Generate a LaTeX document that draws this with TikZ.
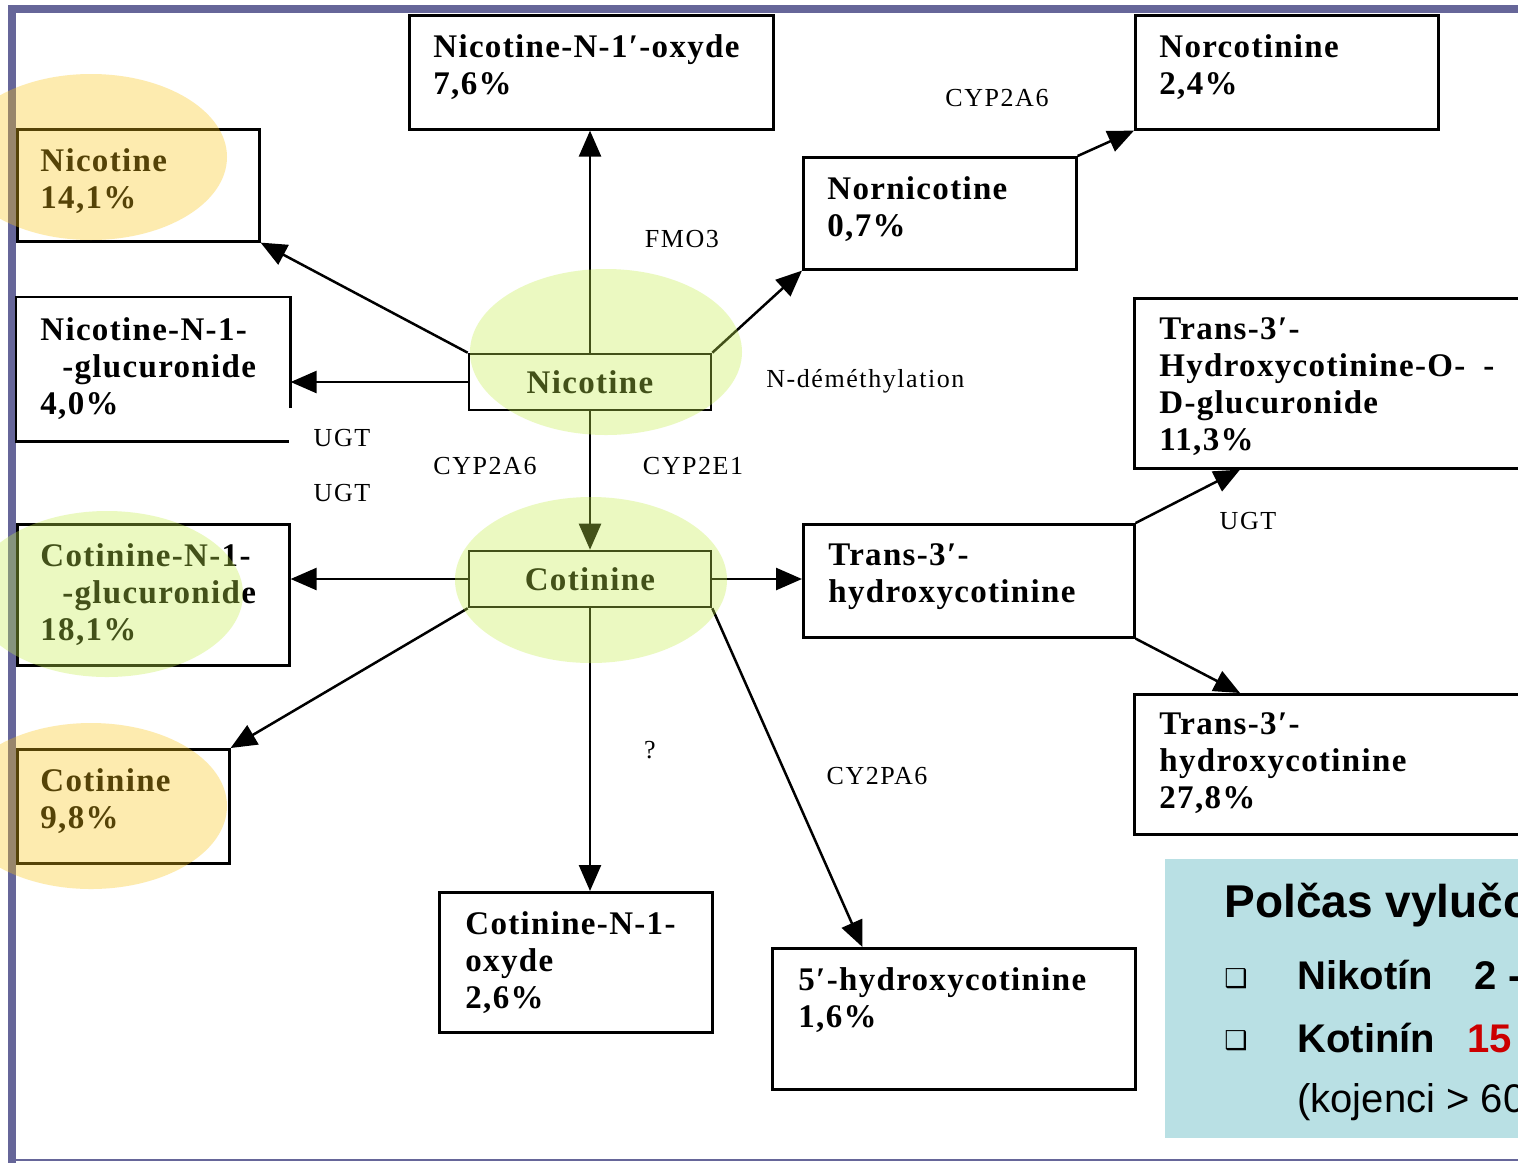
\documentclass[tikz,border=0pt]{standalone}
\usepackage{fontspec}
\setmainfont{Liberation Serif}
\newfontfamily\boxfont[LetterSpace=4]{Liberation Serif}
\newfontfamily\enzfont[LetterSpace=6]{Liberation Serif}
\newfontfamily\notefont{Liberation Sans}
\newfontfamily\dingfont{DejaVu Sans}
\usetikzlibrary{positioning,calc,arrows.meta}
\definecolor{framecol}{RGB}{102,102,153}
\definecolor{halocolY}{RGB}{251,197,21}
\definecolor{halocolG}{RGB}{197,239,76}
\definecolor{notecol}{RGB}{185,224,228}
\definecolor{kotred}{RGB}{204,0,0}

\begin{document}
\begin{tikzpicture}[x=0.5pt,y=-0.5pt,
  pbox/.style={draw, line width=1.3pt, inner sep=0, anchor=north west},
  ptext/.style={font=\boxfont\bfseries\fontsize{16.5}{18.5}\selectfont, align=left, inner sep=0},
  enz/.style={font=\enzfont\fontsize{13}{15}\selectfont, inner sep=0},
  reac/.style={line width=1.25pt, -{Triangle[length=13pt,width=11pt]}},
  yhalo/.style={fill=halocolY, fill opacity=0.34},
  ghalo/.style={fill=halocolG, fill opacity=0.34},
  notetext/.style={font=\notefont\bfseries\fontsize{20}{24}\selectfont, inner sep=0, anchor=base west}]

\useasboundingbox (0,0) rectangle (1518,1163);
\clip (0,0) rectangle (1518,1163);
\fill[white] (0,0) rectangle (1518,1163);

% slide frame
\fill[framecol] (8,5) rectangle (1518,13);
\fill[framecol] (8,5) rectangle (16,1163);
\draw[framecol, line width=1pt] (16,1160) -- (1518,1160);

% central boxes
\node[pbox, anchor=center, minimum width=121pt, minimum height=28pt, ptext] (nic) at (590,382) {Nicotine};
\node[pbox, anchor=center, minimum width=121pt, minimum height=28pt, ptext] (cot) at (590,579) {Cotinine};

% metabolite boxes
\node[pbox, minimum width=182pt, minimum height=57pt] (noxyde) at (408,14) {};
\node[pbox, minimum width=151.5pt, minimum height=57pt] (norcot) at (1134,14) {};
\node[pbox, minimum width=121pt, minimum height=56pt] (nicex) at (16,128) {};
\node[pbox, minimum width=136.5pt, minimum height=56pt] (nornic) at (802,156) {};
\node[pbox, draw=none, minimum width=136pt, minimum height=71pt] (nglu) at (16,297) {};
\node[pbox, minimum width=200pt, minimum height=85pt] (tgluc) at (1133,297) {};
\node[pbox, minimum width=136pt, minimum height=70.5pt] (cnglu) at (16,523) {};
\node[pbox, minimum width=165.5pt, minimum height=56.5pt] (thc) at (802,523) {};
\node[pbox, minimum width=106pt, minimum height=57pt] (cotex) at (16,748) {};
\node[pbox, minimum width=200pt, minimum height=70pt] (thcex) at (1133,693) {};
\node[pbox, minimum width=136.5pt, minimum height=70pt] (coxyde) at (438,891) {};
\node[pbox, minimum width=181.5pt, minimum height=70.5pt] (hydroxy) at (771,947) {};
\draw[line width=1.3pt] ($(nglu.north east)+(0,111)$) -- (nglu.north east) -- (nglu.north west)
  -- (nglu.south west) -- ($(nglu.south east)+(-2,0)$);

\node[ptext, below right=10pt and 12.5pt of noxyde.north west] (noxyde-t) {Nicotine-N-1′-oxyde\\7,6\%};
\node[ptext, below right=10pt and 12.5pt of norcot.north west] (norcot-t) {Norcotinine\\2,4\%};
\node[ptext, below right=10pt and 12pt of nicex.north west] (nicex-t) {Nicotine\\14,1\%};
\node[ptext, below right=10pt and 12.5pt of nornic.north west] (nornic-t) {Nornicotine\\0,7\%};
\node[ptext, below right=10pt and 12pt of nglu.north west] (nglu-t) {Nicotine-N-1-\\\hspace*{11pt}-glucuronide\\4,0\%};
\node[ptext, below right=10pt and 13pt of tgluc.north west] (tgluc-t) {Trans-3′-\\Hydroxycotinine-O-\hspace{9pt}-\\D-glucuronide\\11,3\%};
\node[ptext, below right=10pt and 12pt of cnglu.north west] (cnglu-t) {Cotinine-N-1-\\\hspace*{11pt}-glucuronide\\18,1\%};
\node[ptext, below right=10pt and 13pt of thc.north west] (thc-t) {Trans-3′-\\hydroxycotinine};
\node[ptext, below right=10pt and 12pt of cotex.north west] (cotex-t) {Cotinine\\9,8\%};
\node[ptext, below right=9.5pt and 13pt of thcex.north west] (thcex-t) {Trans-3′-\\hydroxycotinine\\27,8\%};
\node[ptext, below right=10pt and 13.5pt of coxyde.north west] (coxyde-t) {Cotinine-N-1-\\oxyde\\2,6\%};
\node[ptext, below right=10pt and 13.5pt of hydroxy.north west] (hydroxy-t) {5′-hydroxycotinine\\1,6\%};

% enzymes
\node[enz] (lcypa) at (997,98) {CYP2A6};
\node[enz] (lfmo) at (682,239) {FMO3};
\node[enz, anchor=west] (ldemeth) at (766,381) {N-déméthylation};
\node[enz] (lugta) at (342,438) {UGT};
\node[enz] (lcypb) at (485,466) {CYP2A6};
\node[enz] (lcypc) at (693,466) {CYP2E1};
\node[enz] (lugtb) at (342,493) {UGT};
\node[enz] (lugtc) at (1248,521) {UGT};
\node[enz] (lquery) at (650,750) {?};
\node[enz] (lcypd) at (877,776) {CY2PA6};

% reactions
\draw[reac] (nic.north) -- (nic.north |- noxyde.south);
\draw[reac] (nic.north west) -- (nicex.south east);
\draw[reac] (nic.west) -- (nic.west -| nglu.east);
\draw[reac] (nic.north east) -- (nornic.south west);
\draw[reac] (nornic.north east) -- (norcot.south west);
\draw[reac] (nic.south) -- (cot.north);
\draw[reac] (cot.west) -- (cot.west -| cnglu.east);
\draw[reac] (cot.south west) -- (cotex.north east);
\draw[reac] (cot.south) -- (cot.south |- coxyde.north);
\draw[reac] (cot.south east) -- ($(hydroxy.north west)!0.25!(hydroxy.north east)$);
\draw[reac] (cot.east) -- (cot.east -| thc.west);
\draw[reac] (thc.north east) -- ($(tgluc.south west)+(107,0)$);
\draw[reac] (thc.south east) -- ($(thcex.north west)+(107,0)$);

% halos
\fill[yhalo] (91,157) ellipse [x radius=68pt, y radius=41.5pt];
\fill[yhalo] (91,806) ellipse [x radius=68pt, y radius=41.5pt];
\fill[ghalo] (606,352) ellipse [x radius=68pt, y radius=41.5pt];
\fill[ghalo] (591,580) ellipse [x radius=68pt, y radius=41.5pt];
\fill[ghalo] (107,594) ellipse [x radius=68pt, y radius=41.5pt];

% half-life note
\node[anchor=north west, fill=notecol, minimum width=200pt, minimum height=139.5pt, inner sep=0] (halflife) at (1165,859) {};
\node[notetext, font=\notefont\bfseries\fontsize{23}{27}\selectfont] (hl-title) at (1224,917) {Polčas vylučo};
\node[font=\dingfont\fontsize{13}{13}\selectfont, inner sep=0] (bula) at (1236,979) {❑};
\node[font=\dingfont\fontsize{13}{13}\selectfont, inner sep=0] (bulb) at (1236,1041) {❑};
\node[notetext] (hl-nic) at (1297,989) {Nikotín\hspace{21pt}2 -};
\node[notetext] (hl-cot) at (1297,1052) {Kotinín\hspace{16pt}\textcolor{kotred}{15}};
\node[notetext, font=\notefont\fontsize{20}{24}\selectfont] (hl-kid) at (1297,1112) {(kojenci > 60};

\end{tikzpicture}
\end{document}
